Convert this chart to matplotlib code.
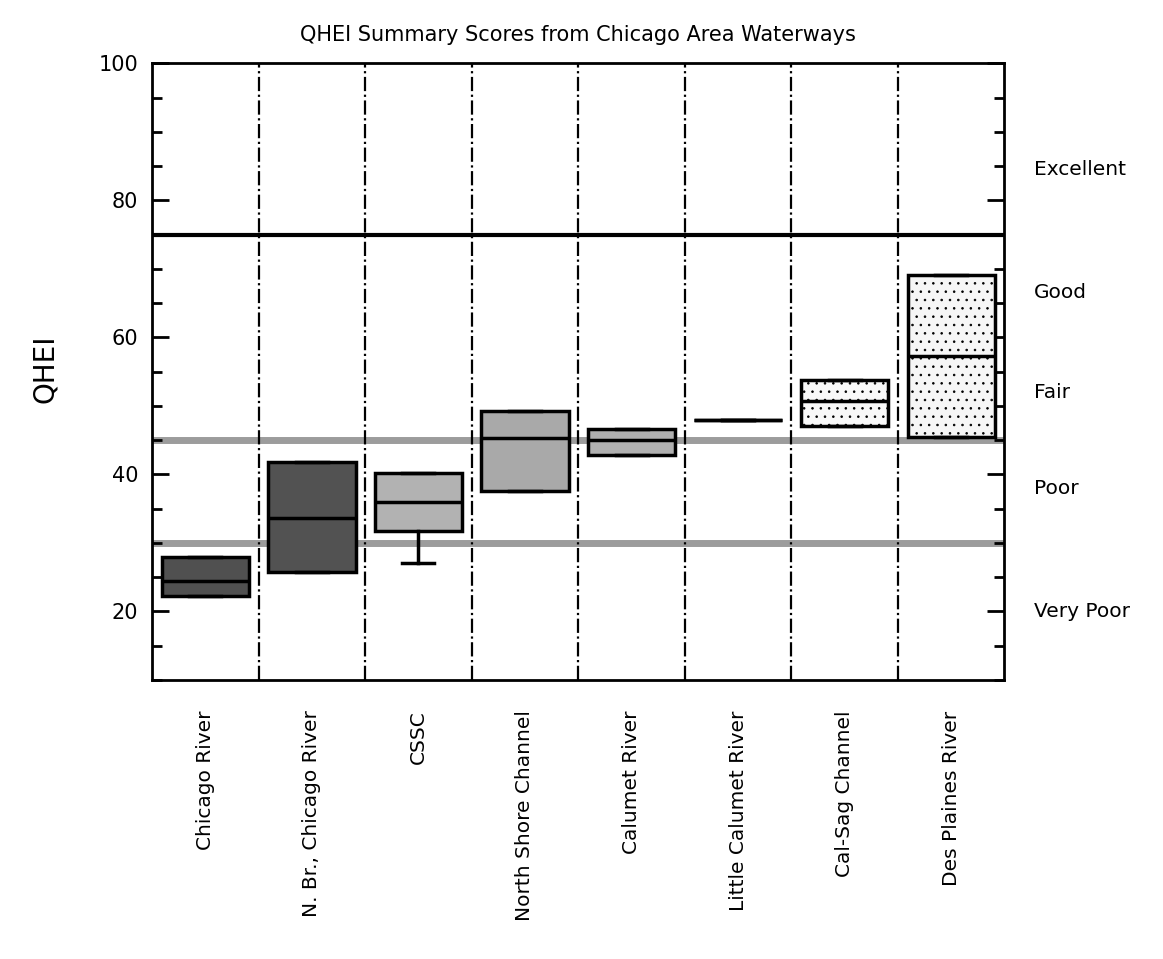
#!/usr/bin/env python3
"""
QHEI summary box chart for Chicago area waterways
"""

import matplotlib
matplotlib.use('Agg')
import matplotlib.pyplot as plt
from matplotlib import rcParams
from matplotlib.transforms import blended_transform_factory

rcParams['font.family'] = ['DejaVu Sans']
rcParams['hatch.color'] = '#c2c2c2'
rcParams['hatch.linewidth'] = 0.6

# Data
waterways = ['Chicago River', 'N. Br., Chicago River', 'CSSC', 'North Shore Channel',
             'Calumet River', 'Little Calumet River', 'Cal-Sag Channel', 'Des Plaines River']
q1 = [22.2, 25.7, 31.8, 37.6, 42.8, 48.0, 47.1, 45.5]
medians = [24.5, 33.7, 35.9, 45.3, 45.0, 48.0, 50.7, 57.3]
q3 = [28.0, 41.8, 40.2, 49.3, 46.6, 48.0, 53.8, 69.1]
whisker_low = [22.2, 25.7, 27.1, 37.6, 42.8, 48.0, 47.1, 45.5]
whisker_high = [28.0, 41.8, 40.2, 49.3, 46.6, 48.0, 53.8, 69.1]
fills = ['#505050', '#525252', '#b2b2b2', '#a9a9a9', '#b0b0b0', '#ffffff', '#f8f8f8', '#f6f6f6']

# Class boundaries and labels
class_lines = [75, 45, 30]
class_names = ['Excellent', 'Good', 'Fair', 'Poor', 'Very Poor']
class_label_y = [84.5, 66.5, 52, 38, 20]


def main():
    fig = plt.figure(figsize=(11.63, 9.59), dpi=100)
    fig.patch.set_facecolor('white')
    ax = fig.add_axes([0.1307, 0.291, 0.733, 0.643])

    # Class boundary lines
    ax.axhline(class_lines[0], color='black', linewidth=3, zorder=1)
    for y in class_lines[1:]:
        ax.axhline(y, color='#9c9c9c', linewidth=5, zorder=1)

    # Separators between waterways
    for i in range(1, len(waterways)):
        ax.axvline(i, color='black', linewidth=1.6, linestyle='-.', zorder=1)

    stats = []
    for i, name in enumerate(waterways):
        stats.append({'label': name, 'med': medians[i], 'q1': q1[i], 'q3': q3[i],
                      'whislo': whisker_low[i], 'whishi': whisker_high[i], 'fliers': []})
    positions = [i + 0.5 for i in range(len(waterways))]
    bp = ax.bxp(stats, positions=positions, widths=0.82, capwidths=0.3,
                patch_artist=True, showfliers=False, manage_ticks=False,
                boxprops=dict(linewidth=2.5, edgecolor='black'),
                medianprops=dict(color='black', linewidth=2.5),
                whiskerprops=dict(color='black', linewidth=2.5),
                capprops=dict(color='black', linewidth=2.5))
    for i, box in enumerate(bp['boxes']):
        box.set_facecolor(fills[i])
        box.set_zorder(3)
        if i >= 6:
            box.set_hatch('..')
    for art in bp['medians'] + bp['whiskers'] + bp['caps']:
        art.set_zorder(4)

    ax.set_xlim(0, len(waterways))
    ax.set_ylim(10, 100)
    ax.set_xticks(positions)
    ax.set_xticklabels(waterways, rotation=90, fontsize=14.5, va='top')
    ax.tick_params(axis='x', length=0, pad=22)

    ax.set_yticks([20, 40, 60, 80, 100])
    ax.set_yticks(range(10, 101, 5), minor=True)
    ax.tick_params(axis='y', which='major', direction='in', length=12, width=2,
                   labelsize=15, right=True, pad=10)
    ax.tick_params(axis='y', which='minor', direction='in', length=7, width=2, right=True)

    for spine in ax.spines.values():
        spine.set_linewidth(2)

    ax.set_title('QHEI Summary Scores from Chicago Area Waterways', fontsize=15, pad=16)
    fig.text(0.039, 0.615, 'QHEI', rotation=90, fontsize=20, ha='center', va='center')

    trans = blended_transform_factory(ax.transAxes, ax.transData)
    for name, y in zip(class_names, class_label_y):
        ax.text(1.035, y, name, transform=trans, fontsize=14.5, va='center', ha='left')

    fig.savefig('out.png', dpi=100, facecolor='white')


if __name__ == '__main__':
    main()
